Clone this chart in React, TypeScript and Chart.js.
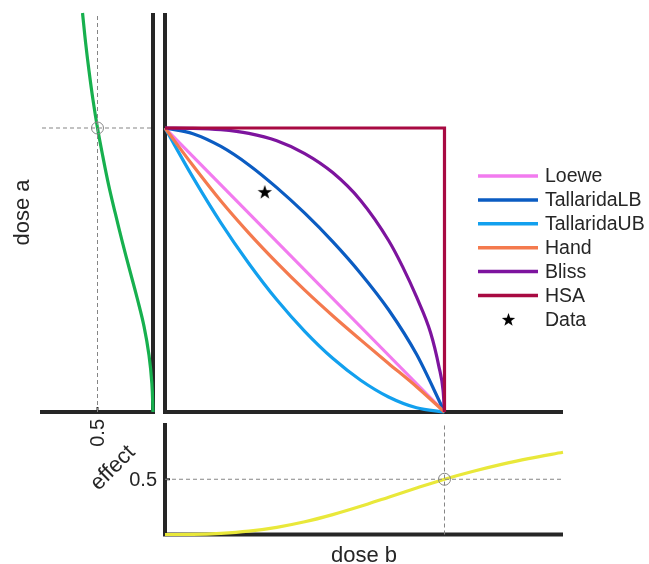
import React, { useEffect, useRef } from 'react';
import { Chart, registerables } from 'chart.js';
Chart.register(...registerables);

// ---------- data ----------
// main panel: isoboles, dose b (normalised) -> dose a (normalised)
const loeweB = [0, 1];
const loeweA = [1, 0];
const lbB = [0, 0.1, 0.2, 0.3, 0.4, 0.5, 0.6, 0.7, 0.8, 0.9, 1];
const lbA = [1, 0.98, 0.935, 0.87, 0.79, 0.7, 0.6, 0.488, 0.36, 0.203, 0];
const ubB = [0, 0.1, 0.2, 0.3, 0.4, 0.5, 0.6, 0.7, 0.8, 0.9, 1];
const ubA = [1, 0.826, 0.666, 0.523, 0.395, 0.284, 0.189, 0.112, 0.053, 0.015, 0];
const handB = [0, 0.1, 0.2, 0.3, 0.4, 0.5, 0.6, 0.7, 0.8, 0.9, 1];
const handA = [1, 0.868, 0.743, 0.63, 0.526, 0.429, 0.339, 0.254, 0.171, 0.089, 0];
const blissB = [0, 0.1, 0.2, 0.3, 0.4, 0.5, 0.6, 0.7, 0.8, 0.85, 0.9, 0.95, 0.98, 0.995, 1];
const blissA = [1, 0.999, 0.994, 0.981, 0.955, 0.91, 0.843, 0.745, 0.604, 0.512, 0.405, 0.28, 0.16, 0.075, 0];
const hsaB = [0, 1, 1];
const hsaA = [1, 1, 0];
const dataB = [0.357];
const dataA = [0.775];

// left panel: dose a -> effect
const doseA = [0, 0.1, 0.2, 0.3, 0.4, 0.5, 0.6, 0.7, 0.8, 0.9, 1.0, 1.1, 1.2, 1.3, 1.405];
const effectA = [0, 0.01, 0.036, 0.08, 0.142, 0.21, 0.277, 0.34, 0.4, 0.452, 0.5, 0.541, 0.576, 0.607, 0.635];

// bottom panel: dose b -> effect
const doseB = [0, 0.1, 0.2, 0.3, 0.4, 0.5, 0.6, 0.7, 0.8, 0.9, 1.0, 1.1, 1.2, 1.3, 1.424];
const effectB = [0, 0.001, 0.01, 0.03, 0.065, 0.115, 0.18, 0.255, 0.338, 0.42, 0.5, 0.57, 0.632, 0.687, 0.744];

const legendLabels = ['Loewe', 'TallaridaLB', 'TallaridaUB', 'Hand', 'Bliss', 'HSA', 'Data'];
const legendColors = ['#F27BEF', '#0B5CC2', '#12A0EE', '#F47A4E', '#7D149E', '#A80A42', '#000000'];
const tickLabel = '0.5';

const X_MAX = 1.424;
const Y_MAX = 1.405;

// ---------- styles ----------
const W = 649, H = 564;
const AXIS = '#262626';
const GRAY = '#858585';
const FONT = "'Liberation Sans', Arial, Helvetica, sans-serif";
const GREEN = '#17B04E';
const YELLOW = '#E9E83A';
const LW = 3.2;

const zip = (xs: number[], ys: number[]) => xs.map((x, i) => ({ x, y: ys[i] }));

function makeStar(size: number) {
  const c = document.createElement('canvas');
  c.width = size; c.height = size;
  const g = c.getContext('2d')!;
  const cx = size / 2, cy = size / 2 + 0.6, R = size / 2 - 0.5, r = R * 0.4;
  g.beginPath();
  for (let i = 0; i < 10; i++) {
    const ang = -Math.PI / 2 + (i * Math.PI) / 5;
    const rad = i % 2 === 0 ? R : r;
    const px = cx + rad * Math.cos(ang), py = cy + rad * Math.sin(ang);
    if (i === 0) g.moveTo(px, py); else g.lineTo(px, py);
  }
  g.closePath();
  g.fillStyle = '#000';
  g.fill();
  return c;
}

const line = (label: string, xs: number[], ys: number[], color: string, extra: any = {}) => ({
  label, data: zip(xs, ys), borderColor: color, backgroundColor: color, borderWidth: LW,
  pointRadius: 0, fill: false, clip: false, cubicInterpolationMode: 'monotone', ...extra,
});
const dashed = (xs: number[], ys: number[]) => ({
  data: zip(xs, ys), borderColor: GRAY, borderWidth: 1, borderDash: [4, 3], pointRadius: 0,
  fill: false, clip: false, tension: 0,
});
const circle = (xs: number[], ys: number[]) => ({
  data: zip(xs, ys), showLine: false, pointStyle: 'circle', pointRadius: 6, borderColor: GRAY,
  borderWidth: 1, backgroundColor: 'rgba(0,0,0,0)', clip: false,
});

const baseOptions = (padding: any, xs: any, ys: any) => ({
  responsive: false, animation: false, events: [],
  layout: { padding },
  plugins: { legend: { display: false }, tooltip: { enabled: false } },
  scales: {
    x: { type: 'linear', display: false, ...xs },
    y: { type: 'linear', display: false, ...ys },
  },
});

export default function App() {
  const mainRef = useRef<HTMLCanvasElement>(null);
  const leftRef = useRef<HTMLCanvasElement>(null);
  const botRef = useRef<HTMLCanvasElement>(null);

  useEffect(() => {
    const star = makeStar(16);
    const legendStar = makeStar(15);

    const mainPlugin = {
      id: 'mainDeco',
      beforeDatasetsDraw(chart: any) {
        const { ctx, chartArea: a } = chart;
        ctx.save();
        ctx.strokeStyle = AXIS; ctx.lineWidth = 4; ctx.lineCap = 'butt';
        ctx.beginPath();
        ctx.moveTo(a.left, a.top); ctx.lineTo(a.left, a.bottom + 2);
        ctx.moveTo(a.left - 2, a.bottom); ctx.lineTo(a.right, a.bottom);
        ctx.stroke();
        ctx.restore();
      },
      afterDraw(chart: any) {
        const { ctx } = chart;
        ctx.save();
        ctx.font = `19.5px ${FONT}`;
        ctx.textBaseline = 'middle';
        ctx.textAlign = 'left';
        legendLabels.forEach((lab, i) => {
          const y = 176 + i * 23.9;
          if (lab === 'Data') {
            ctx.drawImage(legendStar, 508.5 - 7.5, y - 7.5);
          } else {
            ctx.strokeStyle = legendColors[i]; ctx.lineWidth = 3.5;
            ctx.beginPath(); ctx.moveTo(478, y); ctx.lineTo(538, y); ctx.stroke();
          }
          ctx.fillStyle = AXIS;
          ctx.fillText(lab, 545, y + 1);
        });
        ctx.restore();
      },
    };

    const main = new Chart(mainRef.current!, {
      type: 'line',
      data: {
        datasets: [
          { label: 'Data', data: zip(dataB, dataA), showLine: false, pointStyle: star, pointRadius: 8, clip: false },
          line('HSA', hsaB, hsaA, legendColors[5], { cubicInterpolationMode: 'default', tension: 0 }),
          line('Bliss', blissB, blissA, legendColors[4]),
          line('Hand', handB, handA, legendColors[3]),
          line('TallaridaUB', ubB, ubA, legendColors[2]),
          line('TallaridaLB', lbB, lbA, legendColors[1]),
          line('Loewe', loeweB, loeweA, legendColors[0], { cubicInterpolationMode: 'default', tension: 0 }),
        ] as any,
      },
      options: baseOptions({ left: 165, right: W - 563, top: 13, bottom: H - 412 },
        { min: 0, max: X_MAX }, { min: 0, max: Y_MAX }) as any,
      plugins: [mainPlugin],
    });

    const leftPlugin = {
      id: 'leftDeco',
      beforeDatasetsDraw(chart: any) {
        const { ctx, chartArea: a, scales } = chart;
        ctx.save();
        ctx.strokeStyle = AXIS; ctx.lineWidth = 4;
        ctx.beginPath();
        ctx.moveTo(a.right, a.top); ctx.lineTo(a.right, a.bottom + 2);
        ctx.moveTo(a.left - 2, a.bottom); ctx.lineTo(a.right + 2, a.bottom);
        ctx.stroke();
        const tx = scales.x.getPixelForValue(0.5);
        ctx.lineWidth = 2;
        ctx.beginPath(); ctx.moveTo(tx, a.bottom); ctx.lineTo(tx, a.bottom - 5); ctx.stroke();
        ctx.restore();
      },
      afterDraw(chart: any) {
        const { ctx, scales, chartArea: a } = chart;
        const tx = scales.x.getPixelForValue(0.5);
        ctx.save();
        ctx.fillStyle = AXIS;
        ctx.font = `20px ${FONT}`;
        ctx.translate(tx + 1, 419);
        ctx.rotate(-Math.PI / 2);
        ctx.textAlign = 'right'; ctx.textBaseline = 'middle';
        ctx.fillText(tickLabel, 0, 0);
        ctx.restore();

        ctx.save();
        ctx.fillStyle = AXIS;
        ctx.font = `22px ${FONT}`;
        ctx.translate(113, 468);
        ctx.rotate(-Math.PI / 4);
        ctx.textAlign = 'center'; ctx.textBaseline = 'middle';
        ctx.fillText('effect', 0, 0);
        ctx.restore();

        ctx.save();
        ctx.fillStyle = AXIS;
        ctx.font = `22px ${FONT}`;
        ctx.translate(23, (a.top + a.bottom) / 2);
        ctx.rotate(-Math.PI / 2);
        ctx.textAlign = 'center'; ctx.textBaseline = 'middle';
        ctx.fillText('dose a', 0, 0);
        ctx.restore();
      },
    };

    const left = new Chart(leftRef.current!, {
      type: 'line',
      data: {
        datasets: [
          circle([0.5], [1]),
          dashed([1, 0], [1, 1]),
          dashed([0.5, 0.5], [0, Y_MAX]),
          { data: zip(effectA, doseA), borderColor: GREEN, borderWidth: LW, pointRadius: 0, fill: false, clip: false, tension: 0.4 },
        ] as any,
      },
      options: baseOptions({ left: 42, right: W - 153, top: 13, bottom: H - 412 },
        { min: 0, max: 1, reverse: true }, { min: 0, max: Y_MAX }) as any,
      plugins: [leftPlugin],
    });

    const botPlugin = {
      id: 'botDeco',
      beforeDatasetsDraw(chart: any) {
        const { ctx, chartArea: a, scales } = chart;
        ctx.save();
        ctx.strokeStyle = AXIS; ctx.lineWidth = 4;
        ctx.beginPath();
        ctx.moveTo(a.left, a.top - 1); ctx.lineTo(a.left, a.bottom + 2);
        ctx.moveTo(a.left - 2, a.bottom); ctx.lineTo(a.right, a.bottom);
        ctx.stroke();
        const ty = scales.y.getPixelForValue(0.5);
        ctx.lineWidth = 2;
        ctx.beginPath(); ctx.moveTo(a.left, ty); ctx.lineTo(a.left + 5, ty); ctx.stroke();
        ctx.restore();
      },
      afterDraw(chart: any) {
        const { ctx, scales, chartArea: a } = chart;
        const ty = scales.y.getPixelForValue(0.5);
        ctx.save();
        ctx.fillStyle = AXIS;
        ctx.font = `20px ${FONT}`;
        ctx.textAlign = 'right'; ctx.textBaseline = 'middle';
        ctx.fillText(tickLabel, 157, ty + 1);
        ctx.font = `22px ${FONT}`;
        ctx.textAlign = 'center'; ctx.textBaseline = 'alphabetic';
        ctx.fillText('dose b', (a.left + a.right) / 2, 562);
        ctx.restore();
      },
    };

    const bot = new Chart(botRef.current!, {
      type: 'line',
      data: {
        datasets: [
          circle([1], [0.5]),
          dashed([0, X_MAX], [0.5, 0.5]),
          dashed([1, 1], [0, 1]),
          { data: zip(doseB, effectB), borderColor: YELLOW, borderWidth: LW, pointRadius: 0, fill: false, clip: false, cubicInterpolationMode: 'monotone' },
        ] as any,
      },
      options: baseOptions({ left: 165, right: W - 563, top: 424, bottom: H - 534.5 },
        { min: 0, max: X_MAX }, { min: 0, max: 1 }) as any,
      plugins: [botPlugin],
    });

    return () => { main.destroy(); left.destroy(); bot.destroy(); };
  }, []);

  const cs: React.CSSProperties = { position: 'absolute', left: 0, top: 0, width: W, height: H };
  return (
    <div style={{ position: 'absolute', left: 0, top: 0, width: W, height: H, background: '#fff' }}>
      <canvas ref={leftRef} width={W} height={H} style={cs} />
      <canvas ref={botRef} width={W} height={H} style={cs} />
      <canvas ref={mainRef} width={W} height={H} style={cs} />
    </div>
  );
}
